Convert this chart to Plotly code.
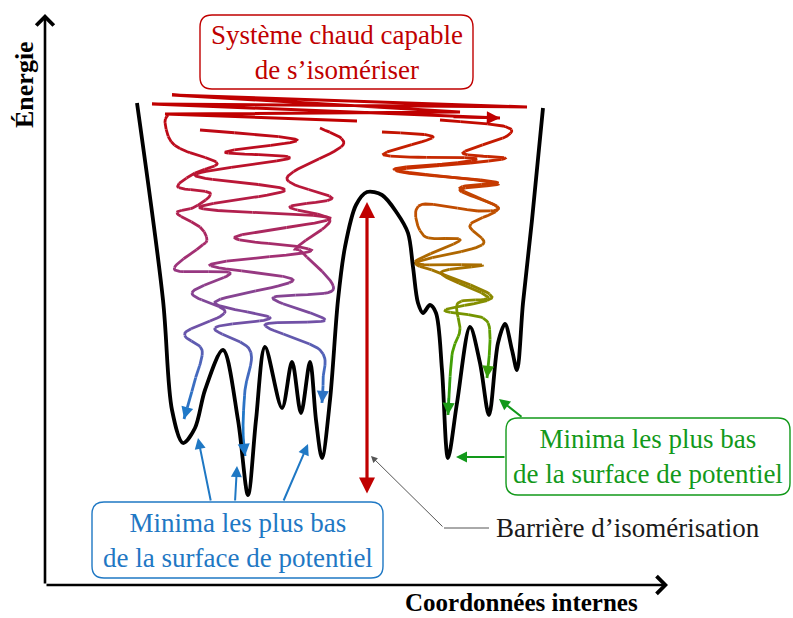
import plotly.graph_objects as go

# ---------------- data (pixel space) ----------------
# potential energy surface (black curve)
pes_x = [137, 163, 172, 183, 195, 205, 223, 238, 248, 256, 265, 282, 292, 301, 310, 316, 322, 330, 338, 345, 356, 367, 382, 397, 408, 413, 418, 423, 430, 436, 442, 448, 457, 470, 480, 489, 498, 505, 512, 517, 523, 532, 543]
pes_y = [103, 300, 410, 443, 428, 390, 350, 420, 495, 420, 347, 408, 362, 413, 362, 420, 458, 400, 300, 247, 205, 192, 195, 213, 233, 267, 303, 313, 305, 313, 370, 458, 403, 327, 363, 415, 343, 324, 350, 370, 303, 220, 108]

# hot-system scribble at the top
top_x = [357, 165, 460, 172, 527, 152, 500]
top_y = [121, 114, 112, 95, 107, 104, 118]

# trajectories falling into the minima
L1_x = [168, 165, 170, 183, 217, 195, 178, 210, 195, 177, 200, 207, 200, 175, 230, 192, 225, 185, 202, 195, 184]
L1_y = [115, 122, 140, 150, 163, 173, 187, 193, 207, 213, 227, 240, 247, 270, 273, 293, 312, 333, 350, 380, 419]
L2_x = [200, 297, 225, 290, 195, 285, 200, 330, 235, 300, 303, 210, 293, 215, 270, 215, 250, 245, 243, 245]
L2_y = [130, 140, 152, 158, 175, 190, 208, 218, 237, 247, 253, 265, 280, 302, 318, 328, 350, 390, 430, 456]
L3_x = [320, 343, 287, 332, 290, 330, 297, 303, 333, 273, 325, 265, 320, 323, 322]
L3_y = [128, 145, 178, 198, 207, 220, 247, 253, 290, 298, 320, 325, 350, 380, 403]
R1_x = [440, 503, 507, 463, 505, 470, 397, 496, 460, 498, 478, 420, 424, 460, 415, 482, 441, 488, 458, 460, 452, 448]
R1_y = [120, 126, 136, 153, 158, 163, 171, 182, 188, 207, 211, 205, 236, 240, 263, 265, 273, 297, 303, 330, 355, 415]
R2_x = [382, 433, 384, 473, 455, 395, 497, 460, 498, 470, 482, 418, 440, 492, 445, 483, 490, 487]
R2_y = [132, 137, 155, 158, 163, 170, 183, 190, 208, 225, 245, 262, 273, 297, 310, 318, 337, 378]

# labels
title_hot = "Système chaud capable<br>de s\u2019isomériser"
minima_label = "Minima les plus bas<br>de la surface de potentiel"
barrier_label = "Barrière d\u2019isomérisation"
y_label = "Énergie"
x_label = "Coordonnées internes"

# ---------------- styles ----------------
RED = "#C00000"
BLUE = "#1F78C4"
GREEN = "#12991A"
FONT = "Liberation Serif, Times New Roman, serif"

left_stops = [(100, (192, 0, 0)), (190, (185, 25, 60)), (260, (160, 50, 120)),
              (320, (115, 80, 165)), (370, (70, 105, 190)), (420, (30, 120, 200))]
right_stops = [(110, (192, 0, 0)), (170, (200, 50, 0)), (220, (190, 85, 0)),
               (265, (170, 110, 0)), (305, (130, 145, 0)), (345, (80, 160, 0)),
               (420, (25, 155, 25))]


def grad(y, stops):
    if y <= stops[0][0]:
        c = stops[0][1]
    elif y >= stops[-1][0]:
        c = stops[-1][1]
    else:
        for (y0, c0), (y1, c1) in zip(stops[:-1], stops[1:]):
            if y0 <= y <= y1:
                t = (y - y0) / (y1 - y0)
                c = tuple(c0[k] + (c1[k] - c0[k]) * t for k in range(3))
                break
    return "rgb(%d,%d,%d)" % tuple(int(round(v)) for v in c)


def smooth(xs, ys, n=14):
    pts = list(zip(xs, ys))
    out = []
    for i in range(len(pts) - 1):
        p0 = pts[i - 1] if i > 0 else pts[i]
        p1 = pts[i]
        p2 = pts[i + 1]
        p3 = pts[i + 2] if i + 2 < len(pts) else pts[i + 1]
        for j in range(n):
            t = j / n
            t2, t3 = t * t, t * t * t
            out.append(tuple(0.5 * ((2 * p1[k]) + (-p0[k] + p2[k]) * t +
                                    (2 * p0[k] - 5 * p1[k] + 4 * p2[k] - p3[k]) * t2 +
                                    (-p0[k] + 3 * p1[k] - 3 * p2[k] + p3[k]) * t3)
                             for k in range(2)))
    out.append(pts[-1])
    return out


fig = go.Figure()
annotations = []
shapes = []


def add_traj(xs, ys, stops, width=2.8):
    pts = smooth(xs, ys)
    step = 5
    i = 0
    while i < len(pts) - 1:
        seg = pts[i:i + step + 1]
        my = sum(p[1] for p in seg) / len(seg)
        fig.add_trace(go.Scatter(x=[p[0] for p in seg], y=[p[1] for p in seg], mode="lines",
                                 line=dict(color=grad(my, stops), width=width),
                                 hoverinfo="skip", showlegend=False))
        i += step
    tip = pts[-1]
    back = pts[-6]
    annotations.append(dict(x=tip[0], y=tip[1], ax=back[0], ay=back[1], xref="x", yref="y",
                            axref="x", ayref="y", text="", showarrow=True, arrowhead=2,
                            arrowsize=1.1, arrowwidth=2.2, arrowcolor=grad(tip[1], stops),
                            standoff=0))


# top scribble
fig.add_trace(go.Scatter(x=top_x, y=top_y, mode="lines", line=dict(color=RED, width=3),
                         hoverinfo="skip", showlegend=False))
annotations.append(dict(x=top_x[-1], y=top_y[-1], ax=top_x[-2] + 300, ay=top_y[-2] + 13,
                        xref="x", yref="y", axref="x", ayref="y", text="", showarrow=True,
                        arrowhead=2, arrowsize=1.1, arrowwidth=2.4, arrowcolor=RED, standoff=0))

for xs, ys in [(L1_x, L1_y), (L2_x, L2_y), (L3_x, L3_y)]:
    add_traj(xs, ys, left_stops)
for xs, ys in [(R1_x, R1_y), (R2_x, R2_y)]:
    add_traj(xs, ys, right_stops)

# PES
fig.add_trace(go.Scatter(x=pes_x, y=pes_y, mode="lines",
                         line=dict(color="black", width=3.8, shape="spline", smoothing=0.9),
                         hoverinfo="skip", showlegend=False))


def arrow(x, y, ax, ay, color, width, head=2, size=1.0):
    annotations.append(dict(x=x, y=y, ax=ax, ay=ay, xref="x", yref="y", axref="x", ayref="y",
                            text="", showarrow=True, arrowhead=head, arrowsize=size,
                            arrowwidth=width, arrowcolor=color, standoff=0))


# axes
arrow(45, 14, 45, 585, "black", 2.6, head=4, size=1.3)
arrow(668, 585, 45, 585, "black", 2.6, head=4, size=1.3)

# barrier double arrow
annotations.append(dict(x=367, y=202, ax=367, ay=495, xref="x", yref="y", axref="x", ayref="y",
                        text="", showarrow=True, arrowhead=2, startarrowhead=2, arrowside="end+start",
                        arrowsize=1.0, startarrowsize=1.0, arrowwidth=3.2, arrowcolor=RED, standoff=0))

# barrier label pointer
arrow(371, 456, 444, 528, "#555555", 1.0, head=2, size=1.3)
shapes.append(dict(type="line", x0=444, y0=528, x1=489, y1=528, xref="x", yref="y",
                   line=dict(color="#555555", width=1)))

# blue pointers
arrow(198, 438, 211, 502, BLUE, 2.0, head=2, size=1.1)
arrow(237, 466, 235, 502, BLUE, 2.0, head=2, size=1.1)
arrow(308, 444, 283, 502, BLUE, 2.0, head=2, size=1.1)

# green pointers
arrow(456, 457, 506, 457, GREEN, 2.0, head=2, size=1.1)
arrow(499, 399, 523, 418, GREEN, 2.0, head=2, size=1.1)


def rounded_box(x0, y0, x1, y1, r, color):
    path = (f"M{x0 + r},{y0} L{x1 - r},{y0} Q{x1},{y0} {x1},{y0 + r} "
            f"L{x1},{y1 - r} Q{x1},{y1} {x1 - r},{y1} L{x0 + r},{y1} "
            f"Q{x0},{y1} {x0},{y1 - r} L{x0},{y0 + r} Q{x0},{y0} {x0 + r},{y0} Z")
    shapes.append(dict(type="path", path=path, xref="x", yref="y",
                       line=dict(color=color, width=1.4), fillcolor="white", layer="above"))


rounded_box(200, 15, 473, 89, 12, RED)
rounded_box(92, 502, 383, 578, 12, BLUE)
rounded_box(506, 418, 790, 495, 12, GREEN)

annotations += [
    dict(x=336.5, y=52, text=title_hot, showarrow=False, font=dict(family=FONT, size=27, color=RED),
         xanchor="center", yanchor="middle"),
    dict(x=237.5, y=540, text=minima_label, showarrow=False, font=dict(family=FONT, size=27, color=BLUE),
         xanchor="center", yanchor="middle"),
    dict(x=648, y=456.5, text=minima_label, showarrow=False, font=dict(family=FONT, size=27, color=GREEN),
         xanchor="center", yanchor="middle"),
    dict(x=494, y=528, text=barrier_label, showarrow=False, font=dict(family=FONT, size=27, color="#1a1a1a"),
         xanchor="left", yanchor="middle"),
    dict(x=24, y=85, text="<b>" + y_label + "</b>", showarrow=False, textangle=-90,
         font=dict(family=FONT, size=26, color="black"), xanchor="center", yanchor="middle"),
    dict(x=521, y=602, text="<b>" + x_label + "</b>", showarrow=False,
         font=dict(family=FONT, size=25, color="black"), xanchor="center", yanchor="middle"),
]

fig.update_layout(
    width=793, height=618, margin=dict(l=0, r=0, t=0, b=0),
    paper_bgcolor="white", plot_bgcolor="white",
    xaxis=dict(range=[0, 793], visible=False, fixedrange=True),
    yaxis=dict(range=[618, 0], visible=False, fixedrange=True),
    annotations=annotations, shapes=shapes, showlegend=False,
)

fig.write_html("out.html", config={"displayModeBar": False},
               post_script="document.body.style.margin='0';document.body.style.overflow='hidden';")
